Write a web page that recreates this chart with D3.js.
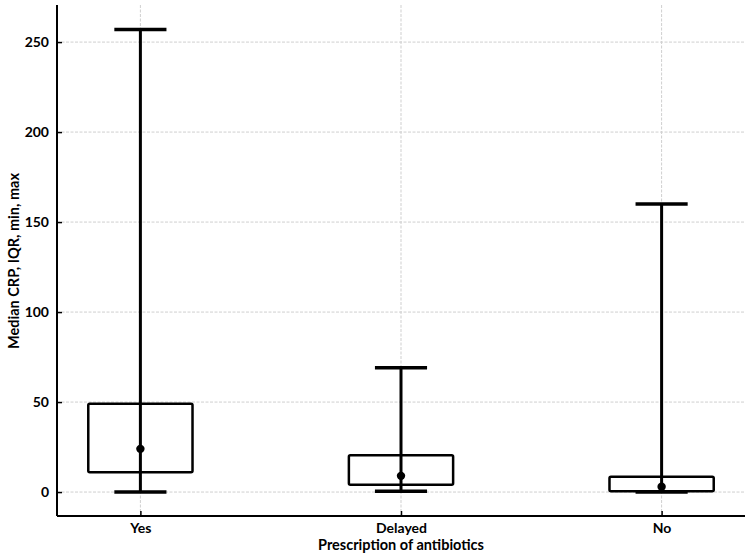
<!DOCTYPE html>
<html><head><meta charset="utf-8">
<script src="https://cdn.jsdelivr.net/npm/d3@7"></script>
<style>body{margin:0;background:#fff}svg{display:block}</style>
</head><body>
<script>
const categories = ["Yes", "Delayed", "No"];
const minValues = [0, 0.5, 0];
const q1Values = [11, 4, 0.5];
const medianValues = [24, 9, 3];
const q3Values = [49, 20.5, 8.5];
const maxValues = [257, 69, 160];
const yTicks = [0, 50, 100, 150, 200, 250];

const W = 750, H = 560;
const svg = d3.select("body").append("svg").attr("width", W).attr("height", H);
const font = "Lato, 'DejaVu Sans', sans-serif";

const x = d3.scaleLinear().domain([-0.32, 2.32]).range([57, 745]);
const y = d3.scaleLinear().domain([-13.3, 270.6]).range([516, 5]);

// grid
svg.append("g").selectAll("line").data(yTicks).join("line")
  .attr("x1", 57).attr("x2", 745).attr("y1", d => y(d)).attr("y2", d => y(d))
  .attr("stroke", "#cfcfcf").attr("stroke-width", 1).attr("stroke-dasharray", "3,1.5");
svg.append("g").selectAll("line").data(categories).join("line")
  .attr("x1", (d, i) => x(i)).attr("x2", (d, i) => x(i)).attr("y1", 5).attr("y2", 516)
  .attr("stroke", "#cfcfcf").attr("stroke-width", 1).attr("stroke-dasharray", "3,1.5");

// boxes
const bw = 0.2, cw = 0.1;
const g = svg.append("g");
categories.forEach((c, i) => {
  g.append("rect")
    .attr("x", x(i - bw)).attr("width", x(i + bw) - x(i - bw))
    .attr("y", y(q3Values[i])).attr("height", y(q1Values[i]) - y(q3Values[i]))
    .attr("fill", "none").attr("stroke", "#000").attr("stroke-width", 2.5).attr("rx", 1.5);
  g.append("line").attr("x1", x(i)).attr("x2", x(i))
    .attr("y1", y(minValues[i])).attr("y2", y(maxValues[i]))
    .attr("stroke", "#000").attr("stroke-width", 3);
  [minValues[i], maxValues[i]].forEach(v => {
    g.append("line").attr("x1", x(i - cw)).attr("x2", x(i + cw))
      .attr("y1", y(v)).attr("y2", y(v))
      .attr("stroke", "#000").attr("stroke-width", 3.5);
  });
  g.append("circle").attr("cx", x(i)).attr("cy", y(medianValues[i])).attr("r", 4.2).attr("fill", "#000");
});

// axes
const yAxis = d3.axisLeft(y).tickValues(yTicks).tickSize(-5).tickPadding(8);
const ya = svg.append("g").attr("transform", "translate(57,0)").call(yAxis);
const xAxis = d3.axisBottom(x).tickValues([0, 1, 2]).tickFormat((d) => categories[d]).tickSize(-5).tickPadding(7);
const xa = svg.append("g").attr("transform", "translate(0,516)").call(xAxis);
[ya, xa].forEach(a => {
  a.select(".domain").attr("stroke", "#000").attr("stroke-width", 2);
  a.selectAll(".tick line").attr("stroke", "#000").attr("stroke-width", 1.5);
  a.selectAll("text").attr("font-family", font).attr("font-weight", "bold").attr("font-size", 14).attr("fill", "#000");
});
xa.select(".domain").attr("d", "M57,0H745");
ya.select(".domain").attr("d", "M0,5V516");

svg.append("text").attr("x", 401).attr("y", 550).attr("text-anchor", "middle")
  .attr("font-family", font).attr("font-weight", "bold").attr("font-size", 14.5)
  .text("Prescription of antibiotics");
svg.append("text").attr("transform", "translate(19,261) rotate(-90)").attr("text-anchor", "middle")
  .attr("font-family", font).attr("font-weight", "bold").attr("font-size", 14.5)
  .text("Median CRP, IQR, min, max");
</script>
</body></html>
